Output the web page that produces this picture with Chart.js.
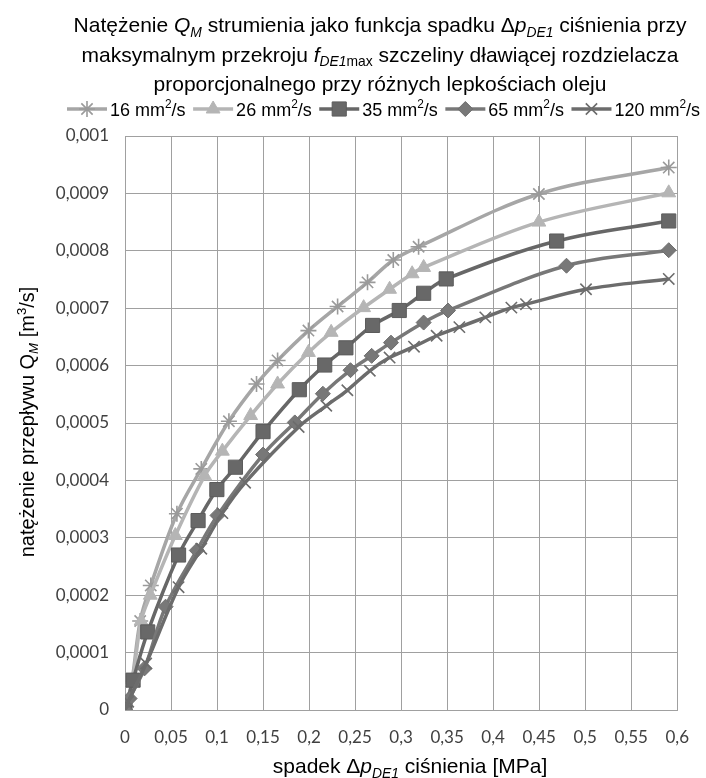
<!DOCTYPE html>
<html><head><meta charset="utf-8">
<script src="https://cdn.jsdelivr.net/npm/chart.js@4.4.1/dist/chart.umd.min.js"></script>
<style>html,body{margin:0;padding:0;background:#fff}</style>
</head><body>
<canvas id="c" width="706" height="778"></canvas>
<script>
// ---- data ----
const seriesLabels = ['16', '26', '35', '65', '120'];
const x16 = [0, 0.0075, 0.0165, 0.028, 0.0564, 0.0829, 0.1129, 0.1429, 0.1658, 0.1993, 0.231, 0.2635, 0.2915, 0.319, 0.4497, 0.5908];
const y16 = [0, 0.00005, 0.000155, 0.000217, 0.000342, 0.00042, 0.000503, 0.000568, 0.000609, 0.000661, 0.000703, 0.000745, 0.000784, 0.000807, 0.000899, 0.000945];
const x26 = [0, 0.008, 0.0175, 0.0275, 0.0547, 0.0865, 0.1058, 0.1365, 0.1658, 0.1993, 0.224, 0.2593, 0.2875, 0.312, 0.3245, 0.4497, 0.5908];
const y26 = [0, 0.00005, 0.000155, 0.0002, 0.000304, 0.000408, 0.000451, 0.000513, 0.000568, 0.000623, 0.000658, 0.000701, 0.000733, 0.00076, 0.000771, 0.00085, 0.000901];
const x35 = [0, 0.0088, 0.0247, 0.0582, 0.0794, 0.0998, 0.12, 0.15, 0.1894, 0.217, 0.24, 0.269, 0.298, 0.3245, 0.349, 0.469, 0.5908];
const y35 = [0, 0.000052, 0.000136, 0.00027, 0.00033, 0.000384, 0.000423, 0.000485, 0.000558, 0.000601, 0.000631, 0.00067, 0.000696, 0.000726, 0.000751, 0.000817, 0.000852];
const x65 = [0, 0.005, 0.0212, 0.0441, 0.078, 0.1005, 0.15, 0.1845, 0.215, 0.245, 0.268, 0.289, 0.3245, 0.351, 0.4797, 0.5908];
const y65 = [0, 0.00002, 0.0000725, 0.00018, 0.000278, 0.000339, 0.000445, 0.000501, 0.000551, 0.000592, 0.000617, 0.00064, 0.000675, 0.000696, 0.000774, 0.000801];
const x120 = [0, 0.0035, 0.023, 0.0582, 0.0829, 0.1058, 0.1305, 0.1887, 0.2187, 0.2416, 0.266, 0.2875, 0.314, 0.3386, 0.3633, 0.3915, 0.4198, 0.4357, 0.5009, 0.5908];
const y120 = [0, 0.0000145, 0.000081, 0.000214, 0.000281, 0.000343, 0.000396, 0.000493, 0.00053, 0.000557, 0.000591, 0.000614, 0.000633, 0.000652, 0.000667, 0.000684, 0.000701, 0.000707, 0.000733, 0.000751];
const xTicks = {min: 0, max: 0.6, step: 0.05};
const yTicks = {min: 0, max: 0.001, step: 0.0001};

// ---- styles ----
const styles = [
  {line: '#a6a6a6', point: 'star',     r: 8,  fill: '#a6a6a6', stroke: '#9a9a9a', bw: 1.6},
  {line: '#b5b5b5', point: 'triangle', r: 8,  fill: '#b5b5b5', stroke: '#b5b5b5', bw: 1},
  {line: '#676767', point: 'rect',     r: 10, fill: '#686868', stroke: '#5c5c5c', bw: 1},
  {line: '#787878', point: 'rectRot',  r: 7.5,fill: '#787878', stroke: '#6e6e6e', bw: 1},
  {line: '#6c6c6c', point: 'crossRot', r: 8,  fill: '#6c6c6c', stroke: '#6c6c6c', bw: 1.6}
];
const xs = [x16, x26, x35, x65, x120];
const ys = [y16, y26, y35, y65, y120];

const datasets = xs.map((xa, i) => ({
  label: seriesLabels[i] + ' mm²/s',
  data: xa.map((x, j) => ({x: x, y: ys[i][j]})),
  borderColor: styles[i].line,
  backgroundColor: styles[i].fill,
  pointBorderColor: styles[i].stroke,
  pointBackgroundColor: styles[i].fill,
  pointStyle: styles[i].point,
  pointRadius: styles[i].r,
  pointBorderWidth: styles[i].bw,
  borderWidth: 3.5,
  tension: 0.35,
  fill: false,
  order: 5 - i
}));

const FONT = '"Liberation Sans", Arial, sans-serif';
function fmt(v, d) { return String(parseFloat(v.toFixed(d))).replace('.', ','); }

function drawRich(ctx, segs, x, y, size, align) {
  const parts = segs.map(s => {
    const st = s[1] || '';
    const small = st.indexOf('sub') >= 0 || st.indexOf('sup') >= 0;
    const fs = small ? size * 0.66 : size;
    const font = (st.indexOf('i') === 0 ? 'italic ' : '') + fs + 'px ' + FONT;
    ctx.font = font;
    const w = ctx.measureText(s[0]).width;
    const dy = st.indexOf('sub') >= 0 ? size * 0.22 : (st.indexOf('sup') >= 0 ? -size * 0.4 : 0);
    return {t: s[0], font, w, dy};
  });
  const total = parts.reduce((a, p) => a + p.w, 0);
  let cx = align === 'center' ? x - total / 2 : (align === 'right' ? x - total : x);
  ctx.textAlign = 'left';
  ctx.textBaseline = 'alphabetic';
  parts.forEach(p => { ctx.font = p.font; ctx.fillText(p.t, cx, y + p.dy); cx += p.w; });
  return total;
}

function drawMarker(ctx, st, x, y) {
  const r = st.r;
  ctx.save();
  ctx.fillStyle = st.fill; ctx.strokeStyle = st.stroke; ctx.lineWidth = st.bw;
  ctx.beginPath();
  if (st.point === 'rect') {
    const s = r * Math.SQRT1_2; ctx.rect(x - s, y - s, 2 * s, 2 * s); ctx.fill(); ctx.stroke();
  } else if (st.point === 'rectRot') {
    ctx.moveTo(x, y - r); ctx.lineTo(x + r, y); ctx.lineTo(x, y + r); ctx.lineTo(x - r, y); ctx.closePath(); ctx.fill(); ctx.stroke();
  } else if (st.point === 'triangle') {
    ctx.moveTo(x, y - r); ctx.lineTo(x + r * 0.866, y + r * 0.5); ctx.lineTo(x - r * 0.866, y + r * 0.5); ctx.closePath(); ctx.fill(); ctx.stroke();
  } else if (st.point === 'crossRot') {
    const s = r * Math.SQRT1_2;
    ctx.moveTo(x - s, y - s); ctx.lineTo(x + s, y + s); ctx.moveTo(x + s, y - s); ctx.lineTo(x - s, y + s); ctx.stroke();
  } else if (st.point === 'star') {
    const s = r * Math.SQRT1_2;
    ctx.moveTo(x - s, y - s); ctx.lineTo(x + s, y + s); ctx.moveTo(x + s, y - s); ctx.lineTo(x - s, y + s);
    ctx.moveTo(x, y - r); ctx.lineTo(x, y + r); ctx.moveTo(x - r, y); ctx.lineTo(x + r, y); ctx.stroke();
  }
  ctx.restore();
}

const textPlugin = {
  id: 'texts',
  afterDraw(chart) {
    const ctx = chart.ctx;
    ctx.save();
    ctx.fillStyle = '#000';
    // title
    const ts = 21, tx = 380;
    drawRich(ctx, [['Natężenie '], ['Q', 'i'], ['M', 'isub'], [' strumienia jako funkcja spadku Δ'], ['p', 'i'], ['DE1', 'isub'], [' ciśnienia przy']], tx, 32, ts, 'center');
    drawRich(ctx, [['maksymalnym przekroju '], ['f', 'i'], ['DE1', 'isub'], ['max', 'sub'], [' szczeliny dławiącej rozdzielacza']], tx, 61.5, ts, 'center');
    drawRich(ctx, [['proporcjonalnego przy różnych lepkościach oleju']], tx, 91, ts, 'center');
    // legend
    let lx = 67; const ly = 109, ls = 18;
    styles.forEach((st, i) => {
      ctx.save();
      ctx.strokeStyle = st.line; ctx.lineWidth = 3.5;
      ctx.beginPath(); ctx.moveTo(lx, ly); ctx.lineTo(lx + 40, ly); ctx.stroke();
      ctx.restore();
      drawMarker(ctx, st, lx + 20, ly);
      lx += 43;
      ctx.fillStyle = '#000';
      const w = drawRich(ctx, [[seriesLabels[i] + ' mm'], ['2', 'sup'], ['/s']], lx, ly + 6.5, ls, 'left');
      lx += w + 7.5;
    });
    // y axis title
    ctx.save();
    ctx.translate(34, 422);
    ctx.rotate(-Math.PI / 2);
    drawRich(ctx, [['natężenie przepływu Q'], ['M', 'isub'], [' [m'], ['3', 'sup'], ['/s]']], 0, 0, 20, 'center');
    ctx.restore();
    // x axis title
    drawRich(ctx, [['spadek Δ'], ['p', 'i'], ['DE1', 'isub'], [' ciśnienia [MPa]']], 410, 773, 21, 'center');
    ctx.restore();
  }
};

new Chart(document.getElementById('c'), {
  type: 'line',
  data: {datasets},
  plugins: [textPlugin],
  options: {
    responsive: false,
    animation: false,
    devicePixelRatio: 1,
    layout: {padding: {top: 136, right: 14, left: 0, bottom: 0}},
    plugins: {legend: {display: false}, title: {display: false}, tooltip: {enabled: false}},
    scales: {
      x: {
        type: 'linear', min: xTicks.min, max: xTicks.max,
        ticks: {stepSize: xTicks.step, color: '#404040', font: {family: 'Lato, "Open Sans", sans-serif', size: 17}, padding: 17, callback: v => fmt(v, 3), maxRotation: 0},
        grid: {color: '#a0a0a0', drawTicks: false, lineWidth: 1},
        border: {color: '#a0a0a0'},
        afterFit: s => { s.height = 68; }
      },
      y: {
        type: 'linear', min: yTicks.min, max: yTicks.max,
        ticks: {stepSize: yTicks.step, color: '#404040', font: {family: 'Lato, "Open Sans", sans-serif', size: 17}, padding: 16, callback: v => fmt(v, 5)},
        grid: {color: '#a0a0a0', drawTicks: false, lineWidth: 1},
        border: {color: '#a0a0a0'},
        afterFit: s => { s.width = 125; }
      }
    }
  }
});
</script>
</body></html>
